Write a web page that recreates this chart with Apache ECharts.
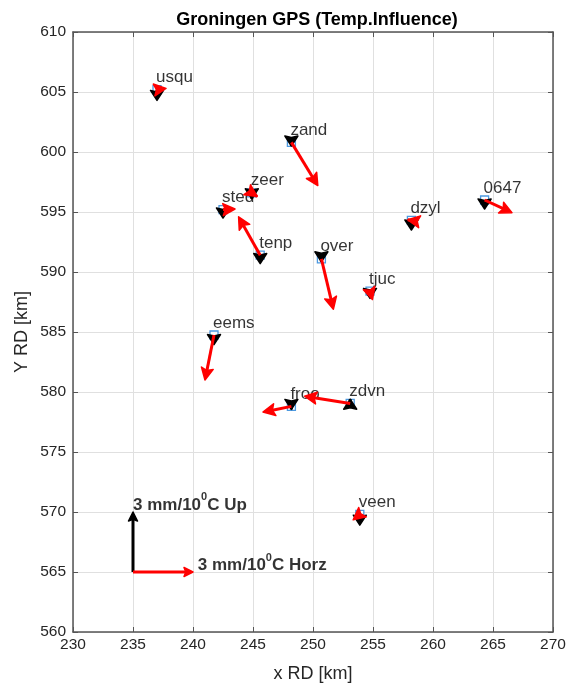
<!DOCTYPE html>
<html>
<head>
<meta charset="utf-8">
<script src="https://cdn.jsdelivr.net/npm/echarts@6/dist/echarts.min.js"></script>
<style>html,body{margin:0;padding:0;background:#fff}#c{width:577px;height:688px}</style>
</head>
<body>
<div id="c"></div>
<script>
// Station names and positions (RD km)
const stations = ['usqu','zand','zeer','sted','tenp','over','tjuc','dzyl','0647','eems','froo','zdvn','veen'];
const stX = [237.0, 248.2, 244.9, 242.5, 245.6, 250.7, 254.75, 258.2, 264.3, 241.75, 248.2, 253.1, 253.9];
const stY = [605.2, 600.8, 596.6, 595.2, 591.4, 591.1, 588.4, 594.3, 596.0, 584.75, 578.8, 579.05, 569.8];
// Horizontal temperature influence (plotted km, 5 km = 3 mm/10°C)
const horzE = [0.75, 2.2, 0.45, 1.0, -1.8, 1.0, 0.2, -0.3, 2.28, -0.75, -2.37, -3.8, -0.55];
const horzN = [0.1, -3.6, -0.3, 0.05, 3.2, -4.2, -0.7, 0.05, -1.06, -3.75, -0.47, 0.6, -0.45];
// Vertical temperature influence (plotted km)
const upV = [-0.9, -0.3, -0.5, -0.7, -0.7, -0.25, -0.6, -0.8, -0.75, -0.8, -0.25, 0.35, -0.9];
// Scale arrows
const scaleOrigin = [235, 565];
const scaleLen = 5;
const xTicks = [230, 235, 240, 245, 250, 255, 260, 265, 270];
const yTicks = [560, 565, 570, 575, 580, 585, 590, 595, 600, 605, 610];

const font = 'Liberation Sans, Arial, sans-serif';
const axisCol = '#262626';

const redArrows = stations.map((s, i) => [stX[i], stY[i], stX[i] + horzE[i], stY[i] + horzN[i]]);
const blackArrows = stations.map((s, i) => [stX[i], stY[i], stX[i], stY[i] + upV[i]]);
const scaleRed = [[scaleOrigin[0], scaleOrigin[1], scaleOrigin[0] + scaleLen, scaleOrigin[1]]];
const scaleBlack = [[scaleOrigin[0], scaleOrigin[1], scaleOrigin[0], scaleOrigin[1] + scaleLen]];

function arrowSeries(data, color, z, headL, headW, notch) {
  return {
    type: 'custom', coordinateSystem: 'cartesian2d', z: z,
    encode: {x: [0, 2], y: [1, 3]},
    data: data,
    renderItem: function (params, api) {
      const p0 = api.coord([api.value(0), api.value(1)]);
      const p1 = api.coord([api.value(2), api.value(3)]);
      let dx = p1[0] - p0[0], dy = p1[1] - p0[1];
      const len = Math.sqrt(dx * dx + dy * dy) || 1;
      const ux = dx / len, uy = dy / len;
      const nx = -uy, ny = ux;
      const bx = p1[0] - ux * headL, by = p1[1] - uy * headL;
      const mx = p1[0] - ux * headL * notch, my = p1[1] - uy * headL * notch;
      const children = [];
      const ex = len > headL * 0.6 ? mx : p1[0];
      const ey = len > headL * 0.6 ? my : p1[1];
      children.push({type: 'line', shape: {x1: p0[0], y1: p0[1], x2: ex, y2: ey},
        style: {stroke: color, lineWidth: 3}});
      children.push({type: 'polygon', shape: {points: [
        [p1[0], p1[1]],
        [bx + nx * headW / 2, by + ny * headW / 2],
        [mx, my],
        [bx - nx * headW / 2, by - ny * headW / 2]
      ]}, style: {fill: color, stroke: color, lineWidth: 1.5, lineJoin: 'round'}});
      return {type: 'group', children: children};
    }
  };
}

const chart = echarts.init(document.getElementById('c'), null, {renderer: 'canvas'});
const baseX = {min: xTicks[0], max: xTicks[xTicks.length - 1], interval: 5};
const baseY = {min: yTicks[0], max: yTicks[yTicks.length - 1], interval: 5};
chart.setOption({
  animation: false,
  backgroundColor: '#fff',
  title: {
    text: 'Groningen GPS (Temp.Influence)', left: 312, textAlign: 'center', top: 6,
    textStyle: {fontFamily: font, fontSize: 18, fontWeight: 'bold', color: '#000'}
  },
  grid: {left: 73, right: 24, top: 32, bottom: 56},
  xAxis: [
    Object.assign({type: 'value', position: 'bottom', name: 'x RD [km]', nameLocation: 'middle', nameGap: 33,
      nameMoveOverlap: false,
      nameTextStyle: {fontFamily: font, fontSize: 18, color: axisCol},
      axisLine: {show: true, lineStyle: {color: '#555', width: 1.5}},
      axisTick: {show: true, inside: true, length: 5, lineStyle: {color: '#555'}},
      axisLabel: {fontFamily: font, fontSize: 15.5, color: axisCol, margin: 5},
      splitLine: {show: true, lineStyle: {color: '#e0e0e0', width: 1}}}, baseX),
    Object.assign({type: 'value', position: 'top',
      axisLine: {show: true, lineStyle: {color: '#555', width: 1.5}},
      axisTick: {show: true, inside: true, length: 5, lineStyle: {color: '#555'}},
      axisLabel: {show: false}, splitLine: {show: false}}, baseX)
  ],
  yAxis: [
    Object.assign({type: 'value', position: 'left', name: 'Y RD [km]', nameLocation: 'middle', nameGap: 42,
      nameMoveOverlap: false,
      nameTextStyle: {fontFamily: font, fontSize: 18, color: axisCol},
      axisLine: {show: true, lineStyle: {color: '#555', width: 1.5}},
      axisTick: {show: true, inside: true, length: 5, lineStyle: {color: '#555'}},
      axisLabel: {fontFamily: font, fontSize: 15.5, color: axisCol, margin: 7},
      splitLine: {show: true, lineStyle: {color: '#e0e0e0', width: 1}}}, baseY),
    Object.assign({type: 'value', position: 'right',
      axisLine: {show: true, lineStyle: {color: '#555', width: 1.5}},
      axisTick: {show: true, inside: true, length: 5, lineStyle: {color: '#555'}},
      axisLabel: {show: false}, splitLine: {show: false}}, baseY)
  ],
  series: [
    {
      type: 'scatter', symbol: 'rect', symbolSize: 8, z: 2,
      itemStyle: {color: '#fff', borderColor: '#1f7fd8', borderWidth: 1.3},
      data: stations.map((s, i) => ({value: [stX[i], stY[i]], name: s})),
      label: {show: true, formatter: p => p.name, position: 'inside', align: 'left', verticalAlign: 'middle',
        offset: [-1, -12], fontFamily: font, fontSize: 17, color: '#000'}
    },
    arrowSeries(blackArrows, '#000', 3, 10, 13, 0.85),
    arrowSeries(redArrows, '#ff0000', 4, 12, 12, 0.8),
    arrowSeries(scaleBlack, '#000', 4, 9, 9, 0.8),
    arrowSeries(scaleRed, '#ff0000', 4, 9, 9, 0.8),
    {
      type: 'scatter', symbolSize: 0, z: 5,
      data: [
        {value: [scaleOrigin[0], scaleOrigin[1] + scaleLen + 0.8], name: 'Up'},
        {value: [scaleOrigin[0] + scaleLen + 0.4, scaleOrigin[1] + 0.75], name: 'Horz'}
      ],
      label: {show: true, position: 'inside', align: 'left', verticalAlign: 'middle', offset: [0, 0],
        formatter: p => '{a|3 mm/10}{s|0}{a|C ' + p.name + '}',
        rich: {
          a: {fontFamily: font, fontSize: 17, fontWeight: 'bold', color: '#000', lineHeight: 22, verticalAlign: 'bottom'},
          s: {fontFamily: font, fontSize: 11, fontWeight: 'bold', color: '#000', lineHeight: 22, verticalAlign: 'top'}
        }}
    }
  ]
});
</script>
</body>
</html>
